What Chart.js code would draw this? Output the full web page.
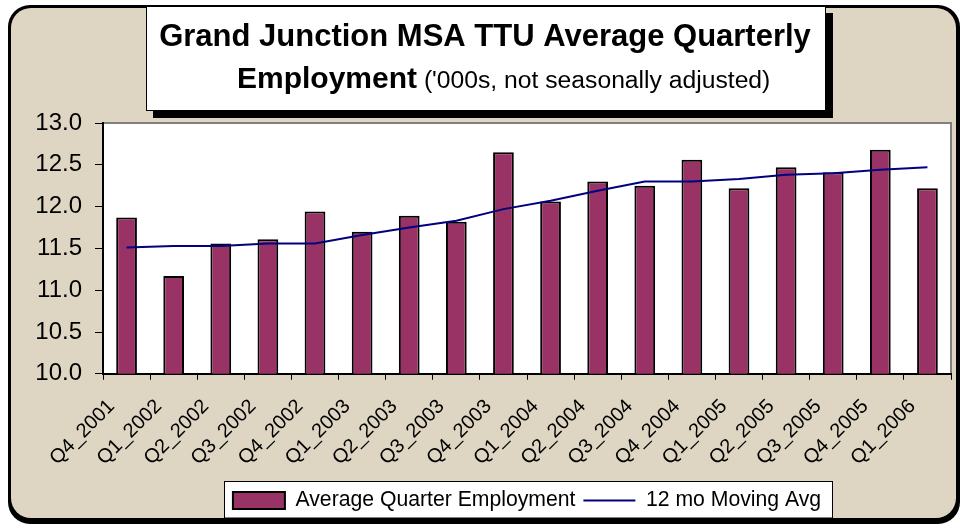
<!DOCTYPE html>
<html><head><meta charset="utf-8">
<script src="https://cdn.jsdelivr.net/npm/chart.js@4/dist/chart.umd.min.js"></script>
<style>html,body{margin:0;padding:0;background:#fff;}canvas{display:block;}</style>
</head><body>
<canvas id="c" width="962" height="525"></canvas>
<script>
const categories = ["Q4_2001","Q1_2002","Q2_2002","Q3_2002","Q4_2002","Q1_2003","Q2_2003","Q3_2003","Q4_2003","Q1_2004","Q2_2004","Q3_2004","Q4_2004","Q1_2005","Q2_2005","Q3_2005","Q4_2005","Q1_2006"];
const employment = [11.87, 11.17, 11.56, 11.61, 11.94, 11.70, 11.89, 11.82, 12.65, 12.06, 12.30, 12.25, 12.56, 12.22, 12.47, 12.41, 12.68, 12.22];
const movingAvg = [11.51, 11.53, 11.53, 11.56, 11.56, 11.66, 11.75, 11.83, 11.97, 12.07, 12.19, 12.30, 12.30, 12.33, 12.38, 12.40, 12.44, 12.47];
const yTicks = ["10.0","10.5","11.0","11.5","12.0","12.5","13.0"];
const seriesNames = ["Average Quarter Employment", "12 mo Moving Avg"];
const titleLine1 = "Grand Junction MSA TTU Average Quarterly";
const titleBold2 = "Employment";
const titleNormal2 = " ('000s, not seasonally adjusted)";

const FONT = "'Liberation Sans', Arial, Helvetica, sans-serif";
Chart.defaults.font.family = FONT;
Chart.defaults.color = "#000";

function rr(ctx, x, y, w, h, r) {
  ctx.beginPath();
  ctx.moveTo(x + r, y);
  ctx.lineTo(x + w - r, y);
  ctx.arcTo(x + w, y, x + w, y + r, r);
  ctx.lineTo(x + w, y + h - r);
  ctx.arcTo(x + w, y + h, x + w - r, y + h, r);
  ctx.lineTo(x + r, y + h);
  ctx.arcTo(x, y + h, x, y + h - r, r);
  ctx.lineTo(x, y + r);
  ctx.arcTo(x, y, x + r, y, r);
  ctx.closePath();
}

const decor = {
  id: 'decor',
  beforeDraw(chart) {
    const ctx = chart.ctx;
    const ca = chart.chartArea;
    ctx.save();
    ctx.fillStyle = '#fff';
    ctx.fillRect(0, 0, chart.width, chart.height);
    // outer frame
    rr(ctx, 8, 5, 952, 519, 22);
    ctx.fillStyle = '#000';
    ctx.fill();
    rr(ctx, 11, 8, 945, 510, 20);
    ctx.fillStyle = '#ded6c3';
    ctx.fill();
    // plot area
    ctx.fillStyle = '#fff';
    ctx.fillRect(ca.left, ca.top, ca.right - ca.left, ca.bottom - ca.top);
    ctx.strokeStyle = '#808080';
    ctx.lineWidth = 2;
    ctx.beginPath();
    ctx.moveTo(ca.left, ca.top);
    ctx.lineTo(ca.right, ca.top);
    ctx.lineTo(ca.right, ca.bottom);
    ctx.stroke();
    // title box
    ctx.fillStyle = '#000';
    ctx.fillRect(153, 13, 680, 105);
    ctx.fillStyle = '#fff';
    ctx.fillRect(146, 6, 680, 105);
    ctx.strokeStyle = '#000';
    ctx.lineWidth = 1;
    ctx.strokeRect(146.5, 6.5, 679, 104);
    ctx.fillStyle = '#000';
    ctx.textBaseline = 'alphabetic';
    ctx.textAlign = 'center';
    ctx.font = 'bold 31px ' + FONT;
    ctx.fillText(titleLine1, 485, 46);
    ctx.textAlign = 'left';
    ctx.font = 'bold 30px ' + FONT;
    const w1 = ctx.measureText(titleBold2).width;
    ctx.fillText(titleBold2, 237, 88);
    ctx.font = '24.7px ' + FONT;
    ctx.fillText(titleNormal2, 237 + w1, 88);
    // legend box
    const lg = chart.legend;
    if (lg && lg.legendHitBoxes && lg.legendHitBoxes.length) {
      const hb = lg.legendHitBoxes;
      let l = Infinity, r = -Infinity, t = Infinity;
      hb.forEach(b => { l = Math.min(l, b.left); r = Math.max(r, b.left + b.width); t = Math.min(t, b.top); });
      const x0 = Math.round(l - 9) + 0.5, x1 = Math.round(r + 11) + 0.5, y0 = Math.round(t - 9) + 0.5;
      ctx.fillStyle = '#fff';
      ctx.fillRect(x0, y0, x1 - x0, 518 - y0);
      ctx.strokeStyle = '#000';
      ctx.lineWidth = 1;
      ctx.strokeRect(x0, y0, x1 - x0, 518 - y0);
    }
    ctx.restore();
  }
};

new Chart(document.getElementById('c'), {
  data: {
    labels: categories,
    datasets: [
      {
        type: 'line',
        label: seriesNames[1],
        data: movingAvg,
        borderColor: '#000080',
        backgroundColor: '#000080',
        borderWidth: 2,
        pointRadius: 0,
        tension: 0,
        order: 0,
        pointStyle: 'line'
      },
      {
        type: 'bar',
        label: seriesNames[0],
        data: employment,
        backgroundColor: '#993366',
        borderColor: '#000',
        borderWidth: 2,
        borderSkipped: false,
        categoryPercentage: 1,
        barPercentage: 0.44,
        order: 1,
        pointStyle: 'rect'
      }
    ]
  },
  options: {
    responsive: false,
    animation: false,
    layout: { padding: { top: 123, right: 11, left: 0, bottom: 4 } },
    scales: {
      x: {
        offset: true,
        grid: { offset: true, drawOnChartArea: false, drawTicks: true, tickLength: 6, tickColor: '#000', tickWidth: 1 },
        border: { color: '#000', width: 2 },
        ticks: { font: { size: 20 }, color: '#000', maxRotation: 45, minRotation: 45, autoSkip: false, padding: 15, labelOffset: -15 },
        afterFit(scale) { scale.height = 108; }
      },
      y: {
        min: 10, max: 13,
        grid: { drawOnChartArea: false, drawTicks: true, tickLength: 8, tickColor: '#000', tickWidth: 1 },
        border: { color: '#000', width: 2 },
        ticks: { stepSize: 0.5, font: { size: 24 }, color: '#000', padding: 13,
          callback: (v) => yTicks[Math.round((v - 10) * 2)] },
        afterFit(scale) { scale.width = 103; }
      }
    },
    plugins: {
      legend: {
        position: 'bottom',
        fullSize: false,
        reverse: true,
        labels: {
          usePointStyle: true,
          pointStyleWidth: 52,
          boxHeight: 17,
          padding: 8,
          font: { size: 21.2 },
          color: '#000'
        }
      },
      title: { display: false },
      tooltip: { enabled: false }
    }
  },
  plugins: [decor]
});
</script>
</body></html>
